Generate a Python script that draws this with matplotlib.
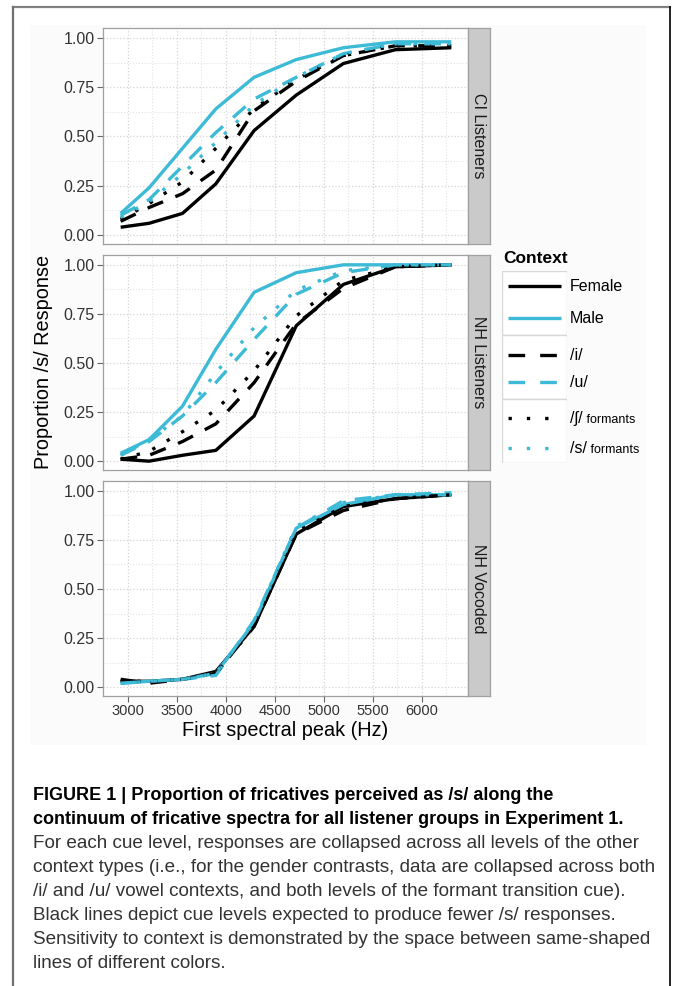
import matplotlib
matplotlib.use("Agg")
import matplotlib.pyplot as plt
from matplotlib.lines import Line2D
from matplotlib.patches import Rectangle

W, H = 673, 986
BLUE = "#3dbad6"
plt.rcParams["font.family"] = ["Liberation Sans", "DejaVu Sans"]

# first spectral peak of each continuum step (Hz)
freq = [2930, 3220, 3560, 3900, 4290, 4720, 5200, 5730, 6300]

# CI listeners
ci_female = [0.04, 0.06, 0.11, 0.26, 0.53, 0.71, 0.87, 0.94, 0.95]
ci_male = [0.11, 0.24, 0.44, 0.64, 0.80, 0.89, 0.95, 0.98, 0.98]
ci_i = [0.07, 0.14, 0.21, 0.33, 0.63, 0.78, 0.91, 0.96, 0.96]
ci_u = [0.10, 0.18, 0.35, 0.52, 0.69, 0.80, 0.92, 0.97, 0.97]
ci_sh = [0.08, 0.16, 0.27, 0.44, 0.64, 0.79, 0.91, 0.96, 0.96]
ci_s = [0.09, 0.17, 0.31, 0.47, 0.66, 0.80, 0.92, 0.97, 0.97]

# NH listeners
nh_female = [0.01, 0.00, 0.03, 0.055, 0.23, 0.69, 0.90, 0.99, 1.00]
nh_male = [0.04, 0.11, 0.28, 0.57, 0.86, 0.96, 1.00, 1.00, 1.00]
nh_i = [0.01, 0.03, 0.10, 0.19, 0.40, 0.70, 0.88, 0.99, 1.00]
nh_u = [0.03, 0.10, 0.23, 0.40, 0.62, 0.85, 0.96, 1.00, 1.00]
nh_sh = [0.01, 0.05, 0.15, 0.26, 0.46, 0.74, 0.92, 0.99, 1.00]
nh_s = [0.03, 0.11, 0.23, 0.45, 0.68, 0.87, 0.97, 1.00, 1.00]

# NH vocoded
voc_female = [0.03, 0.03, 0.04, 0.08, 0.31, 0.78, 0.92, 0.96, 0.98]
voc_male = [0.02, 0.03, 0.04, 0.07, 0.33, 0.81, 0.93, 0.98, 0.98]
voc_i = [0.04, 0.02, 0.04, 0.07, 0.31, 0.78, 0.90, 0.96, 0.98]
voc_u = [0.02, 0.03, 0.04, 0.06, 0.34, 0.81, 0.95, 0.98, 0.99]
voc_sh = [0.03, 0.03, 0.04, 0.07, 0.31, 0.79, 0.92, 0.96, 0.98]
voc_s = [0.02, 0.03, 0.04, 0.07, 0.33, 0.82, 0.94, 0.98, 0.98]

panel_names = ["CI Listeners", "NH Listeners", "NH Vocoded"]
panel_data = [
    [ci_female, ci_male, ci_i, ci_u, ci_sh, ci_s],
    [nh_female, nh_male, nh_i, nh_u, nh_sh, nh_s],
    [voc_female, voc_male, voc_i, voc_u, voc_sh, voc_s],
]

# Female, Male, /i/, /u/, /ʃ/, /s/
series_color = ["black", BLUE, "black", BLUE, "black", BLUE]
series_dash = [None, None, (5, 4), (5, 4), (1, 4), (1, 4)]
LW = 2.4


def px_axes(left, top, right, bottom):
    return fig.add_axes([left / W, 1 - bottom / H, (right - left) / W, (bottom - top) / H])


def draw_line(ax, x, y, color, dash, **kw):
    ln, = ax.plot(x, y, color=color, lw=LW, solid_capstyle="butt", **kw)
    if dash is not None:
        ln.set_dashes(dash)
        ln.set_dash_capstyle("butt")
    return ln


fig = plt.figure(figsize=(W / 100, H / 100), dpi=100)

# faint plot backdrop and page frame
fig.add_artist(Rectangle((30 / W, 1 - 745 / H), 616 / W, 720 / H, transform=fig.transFigure,
                         facecolor="#fbfbfb", edgecolor="none", zorder=0))
fig.add_artist(Line2D([13 / W, 670 / W], [1 - 7 / H, 1 - 7 / H], transform=fig.transFigure, color="#808080", lw=1.6))
fig.add_artist(Line2D([13 / W, 13 / W], [1 - 7 / H, 0], transform=fig.transFigure, color="#707070", lw=1.6))
fig.add_artist(Line2D([670 / W, 670 / W], [1 - 7 / H, 0], transform=fig.transFigure, color="black", lw=1.2))

panel_rows = [(28, 244), (255, 470), (481, 696)]
for k, (top, bot) in enumerate(panel_rows):
    ax = px_axes(103, top, 468, bot)
    ax.set_facecolor("white")
    for vals, col, dash in zip(panel_data[k], series_color, series_dash):
        draw_line(ax, freq, vals, col, dash)
    ax.set_xlim(2760, 6470)
    ax.set_ylim(-0.045, 1.05)
    ax.set_xticks([3000, 3500, 4000, 4500, 5000, 5500, 6000])
    ax.set_xticks([2750, 3250, 3750, 4250, 4750, 5250, 5750, 6250], minor=True)
    ax.set_yticks([0, 0.25, 0.5, 0.75, 1.0])
    ax.set_yticks([0.125, 0.375, 0.625, 0.875], minor=True)
    ax.set_yticklabels(["0.00", "0.25", "0.50", "0.75", "1.00"])
    ax.grid(which="major", color="#d4d4d4", ls=":", lw=0.9)
    ax.grid(which="minor", color="#e4e4e4", ls=":", lw=0.8)
    ax.set_axisbelow(True)
    ax.tick_params(which="minor", length=0)
    ax.tick_params(which="major", length=4, color="#666666", width=0.8, labelcolor="#333333")
    ax.tick_params(axis="y", labelsize=11.5, pad=2)
    ax.tick_params(axis="x", labelsize=10.5, pad=2)
    if k < 2:
        ax.tick_params(axis="x", length=0, labelbottom=False)
    for sp in ax.spines.values():
        sp.set_color("#a0a0a0")
        sp.set_linewidth(0.9)

    strip = px_axes(468, top, 490, bot)
    strip.set_facecolor("#cacaca")
    strip.set_xticks([])
    strip.set_yticks([])
    for sp in strip.spines.values():
        sp.set_color("#a0a0a0")
        sp.set_linewidth(0.9)
    strip.text(0.5, 0.5, panel_names[k], rotation=-90, ha="center", va="center",
               fontsize=11.5, color="#1a1a1a", transform=strip.transAxes)

fig.text(44 / W, 1 - 362 / H, "Proportion /s/ Response", rotation=90, ha="center", va="center", fontsize=14.3)
fig.text(285 / W, 1 - 730 / H, "First spectral peak (Hz)", ha="center", va="center", fontsize=14.3)

# legend, drawn in pixel coordinates
fig.text(503 / W, 1 - 258 / H, "Context", fontsize=12.5, fontweight="bold", ha="left", va="center")
lg = px_axes(502, 271, 567, 463)
lg.set_xlim(502, 567)
lg.set_ylim(463, 271)
lg.axis("off")
for y0, y1 in [(271, 335), (335, 399), (399, 463)]:
    lg.add_patch(Rectangle((502, y0), 65, y1 - y0, facecolor="white", edgecolor="#d8d8d8", lw=1.0))
key_y = [286, 318, 355, 382, 418, 448]
labels = ["Female", "Male", "/i/", "/u/", "/ʃ/", "/s/"]
for yy, lab, col, dash in zip(key_y, labels, series_color, series_dash):
    ln = draw_line(lg, [508, 561], [yy, yy], col, dash if dash is None else (dash[0], dash[1] + 0.5))
    t = lg.text(570, yy, lab, fontsize=11.5, ha="left", va="center", clip_on=False,
                family=["Liberation Sans", "DejaVu Sans"])
    if lab in ("/ʃ/", "/s/"):
        lg.annotate(" formants", xy=(1, 0), xycoords=t, fontsize=9, ha="left", va="bottom",
                    annotation_clip=False)

# caption
bold_lines = [
    "FIGURE 1 | Proportion of fricatives perceived as /s/ along the",
    "continuum of fricative spectra for all listener groups in Experiment 1.",
]
body_lines = [
    "For each cue level, responses are collapsed across all levels of the other",
    "context types (i.e., for the gender contrasts, data are collapsed across both",
    "/i/ and /u/ vowel contexts, and both levels of the formant transition cue).",
    "Black lines depict cue levels expected to produce fewer /s/ responses.",
    "Sensitivity to context is demonstrated by the space between same-shaped",
    "lines of different colors.",
]
y = 795
for line in bold_lines:
    fig.text(33 / W, 1 - y / H, line, fontsize=13, fontweight="bold", ha="left", va="center",
             family=["Liberation Sans Narrow", "Liberation Sans"])
    y += 24
for line in body_lines:
    fig.text(33 / W, 1 - y / H, line, fontsize=13.6, ha="left", va="center", color="#333333")
    y += 24

fig.savefig("out.png", dpi=100)
